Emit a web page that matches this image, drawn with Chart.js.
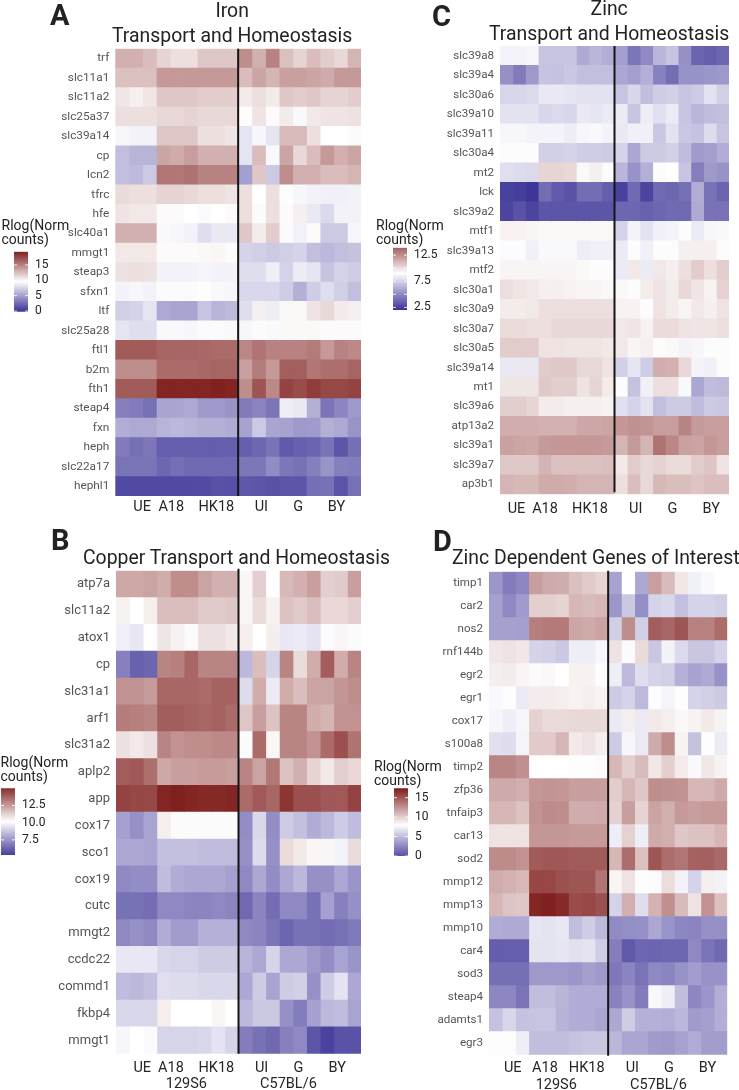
<!DOCTYPE html>
<html>
<head>
<meta charset="utf-8">
<title>Metal homeostasis heatmaps</title>
<script src="https://cdn.jsdelivr.net/npm/chart.js@4"></script>
<style>
  html, body { margin:0; padding:0; background:#fff; }
  #page { position:relative; width:739px; height:1090px; overflow:hidden; font-family:Roboto, sans-serif; }
  #page canvas { position:absolute; }
  .txt { position:absolute; white-space:nowrap; color:#222; }
  .letter { font-weight:700; font-size:29px; line-height:29px; color:#222; }
  .title { font-size:19.4px; line-height:25px; text-align:center; }
  .lg { font-size:14px; line-height:14px; }
</style>
</head>
<body>
<div id="page"></div>
<script>
// column groups: UE, A18, HK18 (129S6) | UI, G, BY (C57BL/6), three samples each
const groupLabels = ["UE","A18","HK18","UI","G","BY"];
const strainLabels = ["129S6","C57BL/6"];

// --- A: iron
const genesA = ["trf","slc11a1","slc11a2","slc25a37","slc39a14","cp","lcn2","tfrc","hfe","slc40a1","mmgt1","steap3","sfxn1","ltf","slc25a28","ftl1","b2m","fth1","steap4","fxn","heph","slc22a17","hephl1"];
const valuesA = [
  [13,13,12.5,11.5,11,11,12,12,12,14.5,13,15,12.3,11.5,12.5,11.8,11.3,12.8],
  [12.3,12.3,12.3,14,14,14,14,14,14,12.5,13.5,12.8,13.7,13.7,13.5,13.2,14,14],
  [10.7,10.3,10.7,12,12,12,11.8,11.8,11.8,10.5,11,10.5,12,11.8,12,11.5,11.5,11.8],
  [11,11,11,11.3,11.3,11.5,11.3,11.3,11.3,9.5,10.8,9.8,10.5,9.3,10.6,10.8,10.8,10.9],
  [9.2,9,9,12,12,12,11,11,10.7,8.3,9.2,8.3,12.6,12.6,11,9.6,9.6,9.8],
  [6.5,6,6,13.5,13.2,13.8,13,13,13,8.3,12.5,9.3,13.5,11.3,12.5,14,13,13.5],
  [6.5,6.3,7,15.5,15.5,15.7,15,15,15,5,12,7,14.5,13,13,12.5,12.5,12.8],
  [11.2,11,11,11.5,11.5,11.3,11,11,10.8,11,9.6,11,9.5,9.2,9,8.9,8.9,9],
  [10.8,10.6,10.6,9.8,9.8,9.6,9.4,9.6,9.8,11,9.8,11,9.8,10.3,8.5,7.8,9,9],
  [13,13,13,9.3,9.2,9,8,8.5,8.5,12,10.4,11.8,9.4,9,9.8,7,7,9.2],
  [10.6,10.6,10.6,9.8,9.8,9.8,9.9,10,9.8,7.5,7.3,7,7.3,7.5,6.5,6.2,6.5,6.7],
  [10.9,11,10.9,9,9,9,9.1,9,9,8,8,8.8,7.5,8.7,8.3,6.8,7.5,7.2],
  [9,9.2,9,9.4,9.4,9.4,9.5,9.3,9.2,7.7,7.7,7.7,7.2,5.8,7.2,8,7.3,6.5],
  [7.3,7.5,8.3,5.5,5.3,5.3,6.8,6,6.3,8,10.3,8.8,9.9,9.9,10.8,11.3,10.5,10.3],
  [8.3,8,8,9.3,9.3,9.2,9.4,9.4,9.3,9.2,9.8,9.3,9.9,9.9,9.9,9.8,9.8,9.8],
  [16.7,16.7,16.7,16.3,16.2,16.2,16.1,16,16,14.8,15.6,15,15,15,15.3,14,15,14.7],
  [14.5,14.5,14.5,16,16,16,16.1,16.3,16.3,13.7,15.3,14,16.5,16.5,15.5,15.8,15.8,16.3],
  [16.7,16.7,16.7,19,19,19,19,19.2,19,14.5,17,14.7,17.7,17.3,18,17.5,17.5,17.7],
  [3.5,3.3,2.8,5.3,5.3,5.5,4.7,4.7,4.5,3.3,3.7,3,8.8,8.5,5.8,3,3.8,4.7],
  [5.7,5.5,5.5,6,6.2,6,5.8,5.8,5.6,5.2,7,5.3,5.2,4.7,4.8,5.8,5.5,4.5],
  [3.3,2.7,3.1,1.9,1.9,1.9,1.9,1.9,1.9,1.9,2.3,2.9,1.7,2,2.2,2.9,1.5,2.7],
  [2.9,3,3,2.3,2.7,2.5,2.5,2.5,2.4,3.1,3.1,4.1,3.1,2.8,3.5,4.5,3.5,3.4],
  [0.9,0.9,0.9,0.9,0.9,0.9,1,1.3,1.2,1.6,1.5,1.3,1.5,1.5,2.7,2.8,1.4,2.8]
];

// --- B: copper
const genesB = ["atp7a","slc11a2","atox1","cp","slc31a1","arf1","slc31a2","aplp2","app","cox17","sco1","cox19","cutc","mmgt2","ccdc22","commd1","fkbp4","mmgt1"];
const valuesB = [
  [12.2,12.2,12.3,12.1,12.8,12.8,12.3,12,12,10.4,11.3,10.2,11.8,12,12.4,11.3,11.4,12.4],
  [10.5,10.2,10.6,11.7,11.7,11.7,11.4,11.4,11.5,10.4,11,10.5,11.6,11.4,11.7,11.1,11.1,11.3],
  [9.8,9.6,10.2,10.8,10.5,10.3,10.9,10.9,10.7,10.6,10.2,10.6,9.6,9.7,9.5,10.1,10.4,10.1],
  [7,6.2,6.3,13,13.1,13.7,13,13,13,8.4,11.7,9.1,13,11,12.1,13.9,12.1,13],
  [12.7,12.7,12.5,13.7,13.7,13.7,13.6,13.8,13.8,9.3,12.1,9.7,12.1,11.7,12.3,12.3,12.6,12.8],
  [13.2,13.1,13,13.9,13.9,13.8,13.7,13.8,13.6,11.5,12.4,11.6,13,13,12.1,11.9,12.7,12.7],
  [10.9,10.7,10.9,13,12.7,12.8,12.8,12.9,12.9,10.3,13.6,10.4,13,13,12.7,13.6,14.2,13.4],
  [13.9,14,13.5,12.2,12.4,12.4,12.5,12.5,12.4,13,12.3,13.3,11.6,12,11.2,10.7,11.3,11.1],
  [14.5,14.4,14.4,15.2,15.3,15.2,15.1,15.1,15.2,13.6,14,13.7,14.8,14.2,14.2,14,14,14.5],
  [7.8,7.4,7.9,10.6,10.3,10.1,10.3,10.3,10.3,7.3,9.2,7.3,8.9,8.6,8.1,8.4,8.9,8.5],
  [8,8,7.9,8.6,8.6,8.6,8.5,8.5,8.5,7.4,9.3,7.4,11,10.7,10.4,10.4,9.9,11],
  [7.2,7.3,7.3,8.5,8.1,8,8,8,7.8,7.2,8,7.3,8,8.4,7.4,7.4,8,7.5],
  [6.6,6.6,6.5,7.2,7.2,7.1,7.1,7.2,7.1,6.4,7.1,6.5,7.2,7.2,6.6,7.8,7,7.4],
  [7.2,7.4,7.2,8.1,7.7,7.7,8.2,8.2,8.2,7.2,7.1,6.7,6.3,6.6,6.6,6.5,6.6,6.8],
  [9.6,9.6,9.6,9.2,9.1,9.1,8.9,8.9,8.9,8.3,8,9.1,8,8,7.6,7.3,7.9,7.5],
  [8.5,8.4,8.6,9.4,9.3,9.3,9.2,9.2,9.2,8,8.9,7.9,8.9,9,7.4,8.9,9.5,8],
  [9.2,9.2,9.2,10.6,10.2,10.2,10.2,10.4,10.2,8.4,8.8,8.8,7.4,6.9,7.8,8.4,8.5,7.9],
  [10,10.2,10.1,9.1,9.1,9.1,9.2,9.5,9.1,6.9,6.6,6.4,7,7.2,5.9,5.4,5.8,5.8]
];

// --- C: zinc
const genesC = ["slc39a8","slc39a4","slc30a6","slc39a10","slc39a11","slc30a4","mt2","lck","slc39a2","mtf1","slc39a13","mtf2","slc30a1","slc30a9","slc30a7","slc30a5","slc39a14","mt1","slc39a6","atp13a2","slc39a1","slc39a7","ap3b1"];
const valuesC = [
  [8.6,8.6,8.7,7,7,7,6.1,6.5,6.2,5.7,4.3,5,6.5,7,5.2,3.7,3.5,3.8],
  [5.2,4.5,5.5,7,6.9,7.1,6.8,6.8,6.8,6,5.7,6.3,4.7,4,5.3,5.3,5.4,5.5],
  [7.6,7.6,7.7,8.2,8.2,8.1,8,8,8,7,7.6,6.8,7.3,7.4,7,7.2,8,7.4],
  [8,8,8,7.6,7.7,7.6,8.2,8.1,8.3,8.3,7,8.4,7.9,8.3,7,6.5,6.7,6.8],
  [8.7,8.7,8.6,8.6,8.6,8.4,8.7,8.8,8.6,8.2,8.5,8.5,7.1,8,7.1,6.9,7.8,7],
  [9.1,9.1,9.1,7.4,7.4,7.5,7.3,7.3,7.2,7.5,6,7.2,7.2,7.4,6.7,5.6,5.7,6.2],
  [7.9,7.8,7.7,10.3,10.3,10.2,9.2,9.5,8.9,6.5,5.3,6.3,9.1,9,7,4.6,5.5,5.3],
  [2.5,2.4,2.1,4,3.4,3.1,4,4,3.5,2.5,3.9,2.6,3.9,3.8,4.1,6.2,4.2,3.7],
  [2.6,3.1,2.6,3.2,3.2,3.2,3.2,3.2,3.2,3.8,3.8,3.6,3.8,3.9,3.9,6.1,4.2,4.2],
  [9.4,9.4,9.3,9.2,9.2,9.2,9.2,9.2,9.2,7.5,8.6,8,8.5,8.6,9.1,8.3,8.7,8.8],
  [8.9,8.9,8.5,8.8,8.8,8.8,8.4,8.5,8.5,8.3,9.1,8.5,9.1,9.1,9.5,9.5,9.5,9.1],
  [9.3,9.3,9.3,9.3,9.3,9.3,9.2,9.1,9.1,8.3,9.7,8.3,9.7,9.5,10,10.6,10,10.5],
  [10,9.8,9.7,9.5,9.5,9.4,9.3,9.3,9.2,9.2,9.1,9.6,9.9,9.6,10.2,9.8,9.4,10.4],
  [9.6,9.6,9.7,10,10,10,10,10,10,9.4,9.4,8.9,9.9,9.6,9.3,9.7,9.5,9.9],
  [10.1,10.1,10,10,10.2,10.2,10.2,10.2,10.2,9.7,9.8,9.4,10.1,10.1,9.9,9.8,9.8,10],
  [10.6,10.6,10.6,9.9,9.9,9.8,9.8,9.8,9.7,9.7,9.3,9.5,9.1,9.2,8.6,8.7,9.1,9.1],
  [8.2,8.2,8.2,10.6,10.7,10.7,10.2,10.2,9.9,7.4,8.1,7.3,11.5,11.4,10.2,8.6,8.5,9.1],
  [9.8,9.8,9.8,10.7,10.5,10.5,9.9,10.3,9.6,8.9,6.9,8.5,10,10,8.8,6,6.7,6.6],
  [10.5,10.5,10.3,9.6,9.6,9.5,9.5,9.5,9.4,7.9,7.5,8,6.8,7.2,7.2,6.7,7.2,7.1],
  [11.5,11.5,11.5,11.4,11.4,11.4,11.7,11.7,11.8,12.2,12.4,12.3,12,12,12.8,12.1,12,12],
  [11.9,11.8,11.7,12.1,12.2,12.2,12.2,12.2,12.1,11.3,12.1,11.3,13.3,12.7,11.9,11.8,12.2,12],
  [10.7,10.7,10.7,11.3,10.9,10.9,10.9,10.9,11,9.7,10.6,10.2,10.4,10.1,10.1,10.6,10.8,9.9],
  [11.3,11.2,11.2,11.6,11.6,11.5,11.3,11.3,11.3,10,11,10.2,11.2,11,11,10.8,11,11]
];

// --- D: zinc dependent genes
const genesD = ["timp1","car2","nos2","rnf144b","egr2","egr1","cox17","s100a8","timp2","zfp36","tnfaip3","car13","sod2","mmp12","mmp13","mmp10","car4","sod3","steap4","adamts1","egr3"];
const valuesD = [
  [3.2,2,2.5,12,11.5,11.4,10.6,10.2,9.8,3.8,8,4,12,10.8,9,7.3,7.7,8],
  [3.7,2.6,3.4,10,10,9.8,11,10.8,11,3.2,5.5,2.8,6,6.2,5.1,6,6,5.8],
  [3.7,3.7,3.6,13.3,13.5,13.5,11.7,11.5,11.8,5.8,12.7,5.8,14.7,14.3,15,13.2,13.2,14.1],
  [9,9.2,9,6,5.9,5.5,7.2,7.2,7.6,9.2,7.8,9.5,5.4,7.4,6.3,5.4,5.4,6],
  [8.7,8.8,8.4,8.2,8.3,8,8.6,8.6,8.1,7.2,4.8,6.5,6,5.8,4.4,3.8,4.1,3],
  [7.7,7.9,7.1,8.8,8.8,8.7,8.5,8.7,8.5,5.6,6,4.8,8.1,7.5,7.9,6,5.8,5.6],
  [7.6,7.2,7.6,9.9,9.5,9.5,9.6,9.6,9.6,7,8.7,7,8.9,8.7,8.3,8.5,8.9,8.5],
  [6.6,6.4,7.5,10.2,10.2,11,8.9,9.2,8.7,5.6,7.6,7,11.5,12.7,8.5,5.2,7.9,7.1],
  [13,13,12.6,8,8,8,8.1,8.1,8.2,11,10,10.8,9,10,8.8,7.7,9,8.5],
  [11.5,11.5,11.3,12.3,12.4,12.3,12,12,12,10.1,11,10.3,12.7,12.6,12.5,11,11,11.5],
  [11,11,10.5,12.5,12.8,12.7,11.4,11.4,11.5,9.9,12,9.8,11.8,11.3,12.2,12,12.2,12.2],
  [9.2,9.2,9.2,12.3,12.3,12.3,12.2,12.2,12.2,7.2,9.9,7.2,11.5,11.3,10.3,10.5,10.5,11],
  [12.8,12.8,12.5,14.8,14.9,14.9,14.8,14.8,14.8,11,14,10.6,15,14,13.7,14.5,14.6,14.2],
  [11.4,11.2,10.9,15.6,15.6,15.2,15,15,13.7,8.4,9.2,8.1,8.2,9.4,7.4,6,8.7,7.4],
  [11,10.4,10.3,17,17.2,16.8,15.4,15.6,15.2,6,11.3,6.5,11.2,12.6,10.8,9.2,12.5,10.6],
  [4.2,4.1,4.1,6.8,6.7,6.9,5,5.7,4.8,2.7,2.8,2.9,4,3.1,2.5,2.4,2.9,2.9],
  [0.6,0.6,0.6,6.7,6.7,6.8,6.6,6.7,5.7,2.1,0.4,1,0.9,1,1,2.6,1.6,1.1],
  [1.4,1.4,1.4,3.3,3.3,3.3,3.2,3.6,3.3,1.8,2.4,1.6,2.6,2.4,3,3.5,3,3],
  [2.5,2.5,1.6,5,5,4.6,4.2,4.2,4.2,2.3,3,2,7.7,7.2,5,2.5,3.2,4.3],
  [5.2,6.1,5.2,5.3,5.3,4.5,4.2,4.2,3.9,4,5.7,4.4,4.4,4.3,4.7,3.4,3.6,4.3],
  [8.1,8.1,7.2,5,5,5,5.2,5.4,5.4,4.7,3.9,3.9,3.4,3.3,3.8,4.2,3.5,3.5]
];

// colour bar ticks per panel
const legendTicksA = [0,5,10,15];
const legendTicksB = [7.5,10,12.5];
const legendTicksC = [2.5,5,7.5,10,12.5];
const legendTicksD = [0,5,10,15];

Chart.defaults.font.family = "Roboto, sans-serif";
Chart.defaults.animation = false;

const page = document.getElementById("page");
const LOW = [59,50,150], MID = [255,255,255], HIGH = [125,28,26];

// diverging scale around a midpoint, same reach on both sides (like gradient2 with rescaling)
function colorFor(v, mid, reach){
  let d = (v-mid)/reach;
  d = Math.max(-1, Math.min(1, d));
  const end = d<0 ? LOW : HIGH, t = Math.abs(d);
  const c = MID.map((m,i)=>Math.round(m+(end[i]-m)*t));
  return `rgb(${c[0]},${c[1]},${c[2]})`;
}

function addCanvas(left, top, w, h){
  const cv = document.createElement("canvas");
  cv.width = w; cv.height = h;
  cv.style.left = left+"px"; cv.style.top = top+"px";
  cv.style.width = w+"px"; cv.style.height = h+"px";
  page.appendChild(cv);
  return cv.getContext("2d");
}

function addText(cls, left, top, html){
  const d = document.createElement("div");
  d.className = "txt "+cls;
  d.style.left = left+"px"; d.style.top = top+"px";
  d.innerHTML = html;
  page.appendChild(d);
  return d;
}

// heat map = horizontal stacked bars, each sample is one unit wide
function heatmap(p){
  // the y axis reserves half a label + padding above the plot, so leave room for it
  const cLeft = p.canvasLeft, cTop = Math.floor(p.top)-16;
  const tickH = 20, strainH = p.strainPos ? 20 : 0;
  const w = Math.ceil(p.right)+6-cLeft, h = Math.ceil(p.bottom)+tickH+strainH+3-cTop;
  const datasets = [];
  for(let c=0;c<18;c++){
    datasets.push({
      data: p.values.map(()=>1),
      backgroundColor: p.values.map(r=>colorFor(r[c],p.mid,p.reach)),
      barPercentage:1, categoryPercentage:1, inflateAmount:0.4, borderWidth:0
    });
  }
  const divider = {
    id:"divider",
    afterDatasetsDraw(chart){
      const {ctx, chartArea:a, scales:{x}} = chart, px = x.getPixelForValue(9);
      ctx.save();
      ctx.strokeStyle="#151515"; ctx.lineWidth=2;
      ctx.beginPath();
      ctx.moveTo(px, a.top+p.divTop); ctx.lineTo(px, a.bottom+p.divBottom);
      ctx.stroke();
      ctx.restore();
    }
  };
  const xAxis = (pos, labels, pad, height)=>({
    type:"linear", position:"bottom", stacked:true, min:0, max:18,
    grid:{display:false, drawTicks:false}, border:{display:false},
    afterBuildTicks(s){ s.ticks = pos.map(v=>({value:v})); },
    afterFit(s){ s.height = height; },
    ticks:{
      autoSkip:false, maxRotation:0, padding:pad, color:"#262626", font:{size:14.5},
      callback:v=>labels[pos.indexOf(v)]
    }
  });
  const scales = {
    x: xAxis(p.groupPos, groupLabels, p.tickPad, tickH),
    y: {
      type:"category", stacked:true,
      grid:{display:false, drawTicks:false}, border:{display:false},
      afterFit(s){ s.width = p.left-cLeft; },
      ticks:{autoSkip:false, padding:p.genePad, color:"#555", font:{size:p.geneSize}}
    }
  };
  if(p.strainPos) scales.x2 = Object.assign(xAxis(p.strainPos, strainLabels, 2, strainH), {axis:"x"});
  new Chart(addCanvas(cLeft,cTop,w,h), {
    type:"bar",
    data:{labels:p.genes, datasets},
    options:{
      indexAxis:"y", responsive:false,
      layout:{padding:{top:p.top-cTop, right:cLeft+w-p.right, bottom:cTop+h-p.bottom-tickH-strainH, left:0}},
      plugins:{legend:{display:false}, tooltip:{enabled:false}},
      scales
    },
    plugins:[divider]
  });
}

// colour bar: one floating bar on a real linear axis, filled with the same scale
function colorbar(p){
  const pad = 16, axisW = 34, barW = p.lgRight-p.lgLeft;
  const cTop = Math.floor(p.lgTop)-pad, h = Math.ceil(p.lgBottom)+pad-cTop;
  const lo = p.lgLo, hi = p.lgHi;
  const marks = {
    id:"marks",
    afterDatasetsDraw(chart){
      const {ctx, chartArea:a, scales:{y}} = chart;
      ctx.save();
      ctx.strokeStyle="rgba(255,255,255,.85)"; ctx.lineWidth=1;
      p.lgTicks.forEach(t=>{
        const py = y.getPixelForValue(t);
        ctx.beginPath();
        ctx.moveTo(a.left,py); ctx.lineTo(a.left+3,py);
        ctx.moveTo(a.right-3,py); ctx.lineTo(a.right,py);
        ctx.stroke();
      });
      ctx.restore();
    }
  };
  new Chart(addCanvas(p.lgLeft,cTop,barW+axisW,h), {
    type:"bar",
    data:{labels:[""], datasets:[{
      data:[[lo,hi]], barPercentage:1, categoryPercentage:1, borderWidth:0,
      backgroundColor(ctx){
        const chart = ctx.chart, y = chart.scales.y;
        if(!chart.chartArea) return "#ccc";
        const g = chart.ctx.createLinearGradient(0,y.getPixelForValue(lo),0,y.getPixelForValue(hi));
        for(let i=0;i<=24;i++){
          g.addColorStop(i/24, colorFor(lo+(hi-lo)*i/24,p.mid,p.reach));
        }
        return g;
      }
    }]},
    options:{
      responsive:false,
      layout:{padding:{top:p.lgTop-cTop, bottom:h-(p.lgBottom-cTop), left:0, right:0}},
      plugins:{legend:{display:false}, tooltip:{enabled:false}},
      scales:{
        x:{display:false},
        y:{
          position:"right", min:lo, max:hi,
          grid:{display:false, drawTicks:false}, border:{display:false},
          afterBuildTicks(s){ s.ticks = p.lgTicks.map(v=>({value:v})); },
          afterFit(s){ s.width = axisW; },
          ticks:{padding:7, color:"#222", font:{size:12}, callback:v=>p.lgFixed?v.toFixed(1):v}
        }
      }
    },
    plugins:[marks]
  });
}

const panels = [
  { genes:genesA, values:valuesA, canvasLeft:50, left:115.3, right:361, top:48.7, bottom:496, mid:9.6, reach:9.8,
    geneSize:11.8, genePad:6, tickPad:3, divTop:0, divBottom:0,
    groupPos:[1.97,4.1,7.4,10.7,13.4,16.2],
    lgLeft:14, lgRight:28, lgTop:251.7, lgBottom:311.7, lgLo:-0.2, lgHi:19.3, lgTicks:legendTicksA },
  { genes:genesB, values:valuesB, canvasLeft:50, left:116, right:361, top:570.7, bottom:1053.7, mid:10.2, reach:5.2,
    geneSize:13, genePad:6, tickPad:6, divTop:-2, divBottom:0,
    groupPos:[1.93,4.04,7.37,10.7,13.4,16.25], strainPos:[5.17,12.67],
    lgLeft:1, lgRight:15, lgTop:788.3, lgBottom:855, lgLo:5.3, lgHi:15, lgTicks:legendTicksB, lgFixed:true },
  { genes:genesC, values:valuesC, canvasLeft:430, left:500, right:729, top:46, bottom:494.3, mid:9, reach:7,
    geneSize:11.6, genePad:6, tickPad:6, divTop:0, divBottom:-2,
    groupPos:[1.3,3.54,7.07,10.67,13.55,16.6],
    lgLeft:393, lgRight:407, lgTop:247.7, lgBottom:310, lgLo:2, lgHi:13.9, lgTicks:legendTicksC, lgFixed:true },
  { genes:genesD, values:valuesD, canvasLeft:425, left:489, right:727.3, top:571.7, bottom:1054.7, mid:8, reach:9.4,
    geneSize:11.6, genePad:6, tickPad:5, divTop:-1, divBottom:1,
    groupPos:[1.79,4.23,7.38,10.83,13.6,16.5], strainPos:[5.08,12.8],
    lgLeft:394, lgRight:408, lgTop:788.3, lgBottom:856, lgLo:0, lgHi:17.4, lgTicks:legendTicksD }
];
panels.forEach(p=>{ colorbar(p); heatmap(p); });

// panel letters, titles, legend titles
addText("letter", 50, 1, "A");
addText("letter", 51, 526, "B");
addText("letter", 432, 2, "C");
addText("letter", 433, 527, "D");
addText("title", 112, -2, "Iron<br>Transport and Homeostasis");
addText("title", 489, -4, "Zinc<br>Transport and Homeostasis");
addText("title", 83, 545, "Copper Transport and Homeostasis");
addText("title", 452, 545, "Zinc Dependent Genes of Interest");
addText("lg", 1.5, 218, "Rlog(Norm<br>counts)");
addText("lg", 376, 218, "Rlog(Norm<br>counts)");
addText("lg", 0.5, 755, "Rlog(Norm<br>counts)");
addText("lg", 374, 759, "Rlog(Norm<br>counts)");
</script>
</body>
</html>
